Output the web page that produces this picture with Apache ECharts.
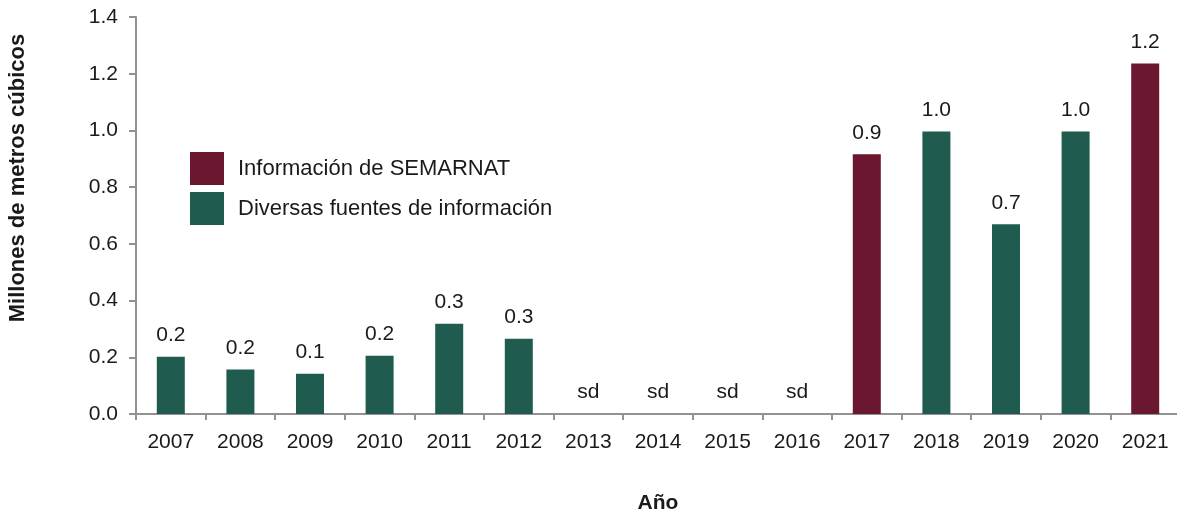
<!DOCTYPE html>
<html>
<head>
<meta charset="utf-8">
<script src="https://cdn.jsdelivr.net/npm/echarts@6/dist/echarts.min.js"></script>
<style>
  html, body { margin: 0; padding: 0; background: #fff; }
  #chart { width: 1177px; height: 516px; }
</style>
</head>
<body>
<div id="chart"></div>
<script>
// years on the x axis
const years = ['2007','2008','2009','2010','2011','2012','2013','2014','2015','2016','2017','2018','2019','2020','2021'];
// millones de m3
const semarnat = [null,null,null,null,null,null,null,null,null,null,0.916,null,null,null,1.236];
const diversas = [0.202,0.157,0.142,0.205,0.318,0.265,null,null,null,null,null,0.996,0.669,0.996,null];
// years without data ("sd")
const sinDatos = [null,null,null,null,null,null,0,0,0,0,null,null,null,null,null];

const FONT = '"Liberation Sans", Arial, sans-serif';
const TXT = '#1a1a1a';
const AXIS = '#929292';

const valueLabel = {
  show: true,
  position: 'top',
  distance: 11,
  fontFamily: FONT,
  fontSize: 21,
  color: TXT,
  formatter: (p) => p.value.toFixed(1)
};

const chart = echarts.init(document.getElementById('chart'));
chart.setOption({
  animation: false,
  textStyle: { fontFamily: FONT },
  grid: { left: 136, top: 17, width: 1044, height: 397, outerBoundsMode: 'none' },
  legend: {
    data: ['Información de SEMARNAT', 'Diversas fuentes de información'],
    orient: 'vertical',
    left: 185,
    top: 147,
    itemWidth: 34,
    itemHeight: 33,
    itemGap: 7,
    icon: 'rect',
    textStyle: { fontFamily: FONT, fontSize: 22, color: TXT, padding: [0, 0, 0, 9] }
  },
  xAxis: {
    type: 'category',
    data: years,
    name: 'Año',
    nameLocation: 'middle',
    nameGap: 79,
    nameTextStyle: { fontFamily: FONT, fontSize: 21, fontWeight: 'bold', color: TXT },
    axisLine: { lineStyle: { color: AXIS, width: 2 } },
    axisTick: { show: true, length: 6, lineStyle: { color: AXIS, width: 2 } },
    axisLabel: { fontFamily: FONT, fontSize: 21, color: TXT, margin: 18 }
  },
  yAxis: {
    type: 'value',
    min: 0,
    max: 1.4,
    interval: 0.2,
    axisLine: { show: true, lineStyle: { color: AXIS, width: 2 } },
    axisTick: { show: true, length: 7, lineStyle: { color: AXIS, width: 2 } },
    splitLine: { show: false },
    axisLabel: { fontFamily: FONT, fontSize: 21, color: TXT, margin: 18, formatter: (v) => v.toFixed(1) }
  },
  graphic: [{
    type: 'text',
    x: 18,
    y: 178,
    rotation: Math.PI / 2,
    style: {
      text: 'Millones de metros cúbicos',
      font: 'bold 22px ' + FONT,
      fill: TXT,
      align: 'center',
      verticalAlign: 'middle'
    }
  }],
  series: [
    {
      name: 'Información de SEMARNAT',
      type: 'bar',
      data: semarnat,
      barWidth: 28,
      barGap: '-100%',
      itemStyle: { color: '#6b1730' },
      label: valueLabel
    },
    {
      name: 'Diversas fuentes de información',
      type: 'bar',
      data: diversas,
      barWidth: 28,
      barGap: '-100%',
      itemStyle: { color: '#1f5b4e' },
      label: valueLabel
    },
    {
      name: 'sd',
      type: 'bar',
      data: sinDatos,
      barWidth: 28,
      barGap: '-100%',
      itemStyle: { color: 'rgba(0,0,0,0)' },
      label: Object.assign({}, valueLabel, { formatter: 'sd' })
    }
  ]
});
</script>
</body>
</html>
